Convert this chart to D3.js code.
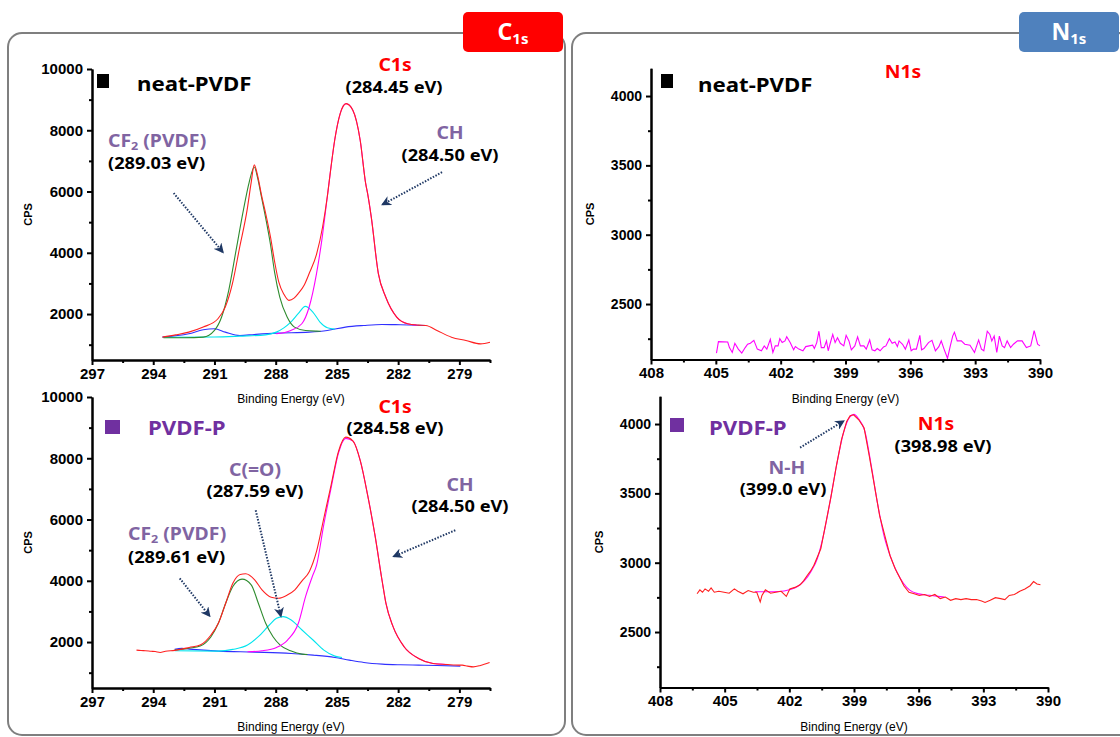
<!DOCTYPE html>
<html lang="en">
<head>
<meta charset="utf-8">
<title>XPS C1s / N1s</title>
<script src="https://d3js.org/d3.v7.min.js"></script>
<style>
  body { margin: 0; background: #fff; }
  svg text { font-family: "Liberation Sans", Arial, sans-serif; }
  .note { font-family: "Noto Sans", sans-serif; font-weight: bold; }
</style>
</head>
<body>
<script>
const width = 1120;
const height = 737;

// ---- data: [binding energy (eV), CPS] ----
// C1s, neat-PVDF
const tlEnvelope = [[293.55,1246],[292.9,1320],[292.26,1410],[291.55,1574],[290.83,1847],[290.47,2230],[290.12,2995],[289.76,4197],[289.40,5400],[289.2,6300],[289.05,6870],[288.88,6500],[288.7,5900],[288.48,5250],[288.25,4500],[288.05,3700],[287.85,3050],[287.6,2650],[287.35,2448],[287.1,2520],[286.9,2667],[286.6,2950],[286.36,3322],[286.0,3950],[285.7,4850],[285.47,5836],[285.29,6800],[285.11,7673],[284.84,8545],[284.55,8870],[284.22,8654],[283.86,7673],[283.59,6256],[283.5,5945],[283.32,5180],[282.97,3322],[282.61,2557],[282.07,1902],[281.54,1683],[281.0,1640],[280.64,1628],[280.1,1464],[279.39,1246],[278.68,1137],[277.96,1027],[277.5,1082]];
const tlCF2 = [[293.5,1224],[292.5,1226],[291.55,1246],[291.0,1464],[290.65,1902],[290.3,2776],[289.94,4087],[289.58,5400],[289.3,6300],[289.05,6800],[288.88,6430],[288.7,5830],[288.48,5100],[288.25,4250],[288.05,3350],[287.8,2550],[287.44,1902],[287.08,1574],[286.54,1464],[286.0,1443],[285.8,1440]];
const tlCO = [[293.5,1240],[291,1250],[289.76,1279],[288.5,1320],[287.97,1410],[287.6,1550],[287.26,1738],[286.9,2011],[286.55,2250],[286.18,2066],[285.83,1738],[285.47,1552],[285.11,1508]];
const tlCH = [[287.97,1355],[287.26,1464],[286.72,1683],[286.36,2230],[286.0,3322],[285.74,4415],[285.47,5836],[285.29,6800],[285.11,7673],[284.84,8545],[284.55,8870],[284.22,8654],[283.86,7673],[283.59,6256],[283.5,5945],[283.32,5180],[282.97,3322],[282.61,2557],[282.07,1902],[281.54,1683],[281.1,1640]];
const tlBg = [[293.55,1246],[292.26,1355],[291.55,1486],[291.0,1519],[290.47,1410],[289.76,1300],[289.05,1333],[287.97,1377],[286.36,1410],[285.47,1464],[284.58,1574],[283.68,1628],[282.79,1661],[281.9,1650],[280.64,1628]];

// C1s, PVDF-P
const blEnvelope = [[294.82,1738],[294.6,1725],[294.38,1716],[294.1,1700],[293.9,1690],[293.66,1661],[293.4,1700],[292.95,1727],[292.6,1770],[292.24,1825],[291.7,1902],[291.17,2230],[290.81,2612],[290.45,3268],[290.1,3923],[289.74,4208],[289.47,4230],[289.03,4033],[288.67,3705],[288.22,3464],[287.87,3432],[287.42,3541],[287.06,3705],[286.71,4000],[286.35,4304],[286.0,4959],[285.64,6050],[285.28,7141],[284.92,8232],[284.57,8690],[284.21,8560],[283.85,7905],[283.5,6814],[283.14,5505],[282.78,3977],[282.6,3268],[282.25,2503],[281.71,1847],[281.0,1465],[280.29,1300],[279.57,1268],[279.2,1250],[278.86,1246],[278.6,1215],[278.32,1191],[277.97,1235],[277.52,1333]];
const blCF2 = [[292.95,1738],[292.24,1800],[291.7,1869],[291.17,2175],[290.81,2612],[290.45,3268],[290.1,3814],[289.65,4055],[289.2,3869],[288.85,3268],[288.49,2612],[288.13,2175],[287.78,1902],[287.24,1705],[286.71,1607],[286.44,1596]];
const blCO = [[292.95,1716],[290.81,1705],[290.1,1760],[289.38,1902],[288.85,2175],[288.31,2557],[287.96,2776],[287.64,2831],[287.24,2721],[286.71,2394],[286.17,2066],[285.64,1738],[285.1,1541],[284.75,1497]];
const blCH = [[289.38,1683],[288.67,1716],[287.96,1825],[287.42,2066],[286.89,2612],[286.53,3500],[286.2,4150],[286.0,4500],[285.64,5850],[285.28,7050],[284.92,8180],[284.57,8650],[284.21,8560],[283.85,7905],[283.5,6814],[283.14,5505],[282.78,3977],[282.6,3268],[282.25,2503],[281.71,1847],[281.0,1465],[280.29,1300],[279.57,1268]];
const blBg = [[292.95,1760],[292.6,1792],[292.24,1770],[290.81,1705],[289.03,1672],[287.24,1628],[286.17,1574],[285.1,1497],[284.39,1410],[283.68,1333],[282.78,1279],[281.89,1257],[281.0,1246],[280.11,1235],[278.95,1213]];

// N1s, neat-PVDF (noise only)
const trNoise = [[404.97,2146],[404.88,2229],[404.45,2226],[404.37,2186],[404.24,2151],[404.12,2217],[403.96,2175],[403.80,2146],[403.64,2186],[403.53,2210],[403.40,2217],[403.24,2238],[403.08,2175],[402.89,2163],[402.76,2198],[402.64,2175],[402.48,2245],[402.36,2151],[402.25,2198],[402.12,2198],[402.04,2250],[401.93,2222],[401.80,2234],[401.72,2264],[401.56,2222],[401.40,2170],[401.32,2193],[401.16,2175],[400.97,2163],[400.84,2193],[400.68,2198],[400.52,2203],[400.44,2179],[400.33,2222],[400.23,2304],[400.12,2186],[399.99,2186],[399.88,2234],[399.80,2163],[399.72,2210],[399.59,2281],[399.48,2222],[399.37,2257],[399.24,2217],[399.08,2198],[398.97,2274],[398.84,2234],[398.73,2170],[398.57,2198],[398.44,2264],[398.31,2198],[398.15,2198],[398.04,2175],[397.88,2241],[397.77,2170],[397.64,2163],[397.53,2179],[397.40,2163],[397.24,2191],[397.13,2198],[396.97,2250],[396.84,2217],[396.71,2226],[396.60,2193],[396.52,2234],[396.36,2210],[396.23,2175],[396.07,2241],[395.96,2163],[395.85,2175],[395.72,2175],[395.56,2274],[395.48,2170],[395.37,2179],[395.16,2222],[395.00,2238],[394.84,2163],[394.68,2193],[394.57,2234],[394.44,2175],[394.28,2109],[394.15,2198],[394.04,2269],[393.96,2297],[393.83,2234],[393.64,2234],[393.48,2210],[393.24,2203],[393.03,2151],[392.84,2241],[392.71,2175],[392.60,2163],[392.44,2304],[392.32,2281],[392.23,2234],[392.12,2269],[392.00,2151],[391.88,2269],[391.75,2198],[391.64,2186],[391.52,2234],[391.36,2186],[391.23,2210],[391.04,2234],[390.83,2234],[390.63,2186],[390.43,2198],[390.27,2309],[390.11,2210],[390.00,2198]];

// N1s, PVDF-P
const brEnvelope = [[406.28,2776],[406.15,2804],[406.03,2787],[405.91,2811],[405.75,2794],[405.63,2818],[405.48,2787],[405.27,2794],[405.03,2787],[404.79,2780],[404.55,2811],[404.39,2794],[404.15,2776],[403.91,2799],[403.67,2787],[403.51,2787],[403.35,2717],[403.27,2764],[403.11,2804],[402.87,2780],[402.63,2787],[402.38,2794],[402.14,2757],[401.98,2811],[401.74,2822],[401.5,2841],[401.34,2869],[401.18,2906],[401.02,2939],[400.86,2981],[400.54,3100],[400.3,3291],[400.06,3482],[399.82,3697],[399.58,3888],[399.34,4019],[399.18,4060],[399.02,4067],[398.78,4031],[398.53,3971],[398.29,3768],[398.05,3554],[397.81,3339],[397.57,3196],[397.33,3052],[397.09,2957],[396.85,2885],[396.69,2834],[396.45,2787],[396.21,2776],[395.97,2764],[395.73,2771],[395.49,2757],[395.25,2771],[395.0,2741],[394.76,2752],[394.52,2729],[394.28,2741],[394.04,2734],[393.8,2741],[393.56,2734],[393.32,2734],[393.08,2724],[392.92,2713],[392.68,2729],[392.44,2748],[392.2,2741],[392.0,2734],[391.8,2764],[391.56,2771],[391.31,2794],[391.07,2811],[390.83,2834],[390.67,2864],[390.51,2846],[390.35,2841]];
const brNH = [[403.6,2790],[403.0,2790],[402.5,2792],[402.0,2805],[401.6,2830],[401.3,2870],[401.0,2935],[400.7,3030],[400.4,3210],[400.1,3450],[399.8,3710],[399.5,3930],[399.2,4050],[399.0,4070],[398.8,4040],[398.5,3950],[398.2,3700],[397.9,3420],[397.6,3190],[397.3,3040],[397.0,2930],[396.7,2850],[396.4,2800],[396.0,2775],[395.5,2765],[394.8,2752]];

// ticks
const cTicks = [297, 294, 291, 288, 285, 282, 279];
const cMinor = [295.5, 292.5, 289.5, 286.5, 283.5, 280.5, 277.5];
const cYTicks = [2000, 4000, 6000, 8000, 10000];
const cYMinor = [1000, 3000, 5000, 7000, 9000];
const nTicks = [408, 405, 402, 399, 396, 393, 390];
const nMinor = [406.5, 403.5, 400.5, 397.5, 394.5, 391.5];
const nYTicks = [2500, 3000, 3500, 4000];
const nYMinor = [2250, 2750, 3250, 3750];

const svg = d3.select("body").append("svg")
    .attr("width", width)
    .attr("height", height);

// panel frames and tabs
svg.append("rect").attr("x", 8).attr("y", 33).attr("width", 557).attr("height", 702)
    .attr("rx", 14).attr("fill", "none").attr("stroke", "#7f7f7f").attr("stroke-width", 2);
svg.append("rect").attr("x", 572).attr("y", 33).attr("width", 560).attr("height", 702)
    .attr("rx", 14).attr("fill", "none").attr("stroke", "#7f7f7f").attr("stroke-width", 2);

function tab(x, fill, letter) {
    svg.append("rect").attr("x", x).attr("y", 12).attr("width", 100).attr("height", 40)
        .attr("rx", 5).attr("fill", fill);
    const t = svg.append("text").attr("class", "note").attr("x", x + 50).attr("y", 40)
        .attr("text-anchor", "middle").attr("fill", "#fff").attr("font-size", 23);
    t.append("tspan").text(letter);
    t.append("tspan").attr("font-size", 15).attr("dy", 4).text("1s");
}
tab(463, "#ff0000", "C");
tab(1019, "#4f81bd", "N");

const defs = svg.append("defs");
defs.append("marker").attr("id", "head")
    .attr("viewBox", "0 0 10 10").attr("refX", 8).attr("refY", 5)
    .attr("markerWidth", 5).attr("markerHeight", 5).attr("orient", "auto")
    .append("path").attr("d", "M0,0 L10,5 L0,10 L3,5 Z").attr("fill", "#1f3864");

function drawPanel(p) {
    const x = d3.scaleLinear().domain(p.xDomain).range(p.xRange);
    const y = d3.scaleLinear().domain(p.yDomain).range(p.yRange);
    const g = svg.append("g");
    const line = d3.line().x(d => x(d[0])).y(d => y(d[1]));

    p.series.forEach(s => {
        g.append("path").datum(s.data)
            .attr("d", line.curve(s.smooth ? d3.curveMonotoneX : d3.curveLinear))
            .attr("fill", "none").attr("stroke", s.color).attr("stroke-width", 1.1);
    });

    const x0 = p.yRange[0];
    g.append("g").attr("transform", `translate(0,${x0})`)
        .call(d3.axisBottom(x).tickValues(p.xMinor).tickFormat("").tickSize(3).tickSizeOuter(0));
    g.append("g").attr("transform", `translate(0,${x0})`)
        .call(d3.axisBottom(x).tickValues(p.xTicks).tickFormat(d3.format("d"))
            .tickSize(5).tickSizeOuter(0).tickPadding(3))
        .selectAll("text").attr("font-size", 15).attr("font-weight", "bold").attr("fill", "#000");

    const xl = p.xRange[0];
    g.append("g").attr("transform", `translate(${xl},0)`)
        .call(d3.axisLeft(y).tickValues(p.yMinor).tickFormat("").tickSize(3).tickSizeOuter(0));
    g.append("g").attr("transform", `translate(${xl},0)`)
        .call(d3.axisLeft(y).tickValues(p.yTicks).tickFormat(d3.format("d"))
            .tickSize(5).tickSizeOuter(0).tickPadding(4))
        .selectAll("text").attr("font-size", p.yFont).attr("font-weight", "bold").attr("fill", "#000");

    g.selectAll(".domain").attr("stroke", "#000").attr("stroke-width", 2);
    g.selectAll(".tick line").attr("stroke", "#000").attr("stroke-width", 2);

    g.append("text").attr("x", (p.xRange[0] + p.xRange[1]) / 2).attr("y", x0 + 43)
        .attr("text-anchor", "middle").attr("font-size", 12).text("Binding Energy (eV)");
    g.append("text").attr("transform", `translate(${p.cpsX},${(p.yRange[0] + p.yRange[1]) / 2}) rotate(-90)`)
        .attr("text-anchor", "middle").attr("font-size", 11).attr("font-weight", "bold").text("CPS");

    (p.arrows || []).forEach(a => {
        g.append("line")
            .attr("x1", x(a[0][0])).attr("y1", y(a[0][1]))
            .attr("x2", x(a[1][0])).attr("y2", y(a[1][1]))
            .attr("stroke", "#1f3864").attr("stroke-width", 2)
            .attr("stroke-dasharray", "1.5,1.5").attr("marker-end", "url(#head)");
    });
    return g;
}

// annotation text, widened a little to match the original's broad face
const stretch = 1.14;
function note(g, x, y, txt, color, size, anchor) {
    return g.append("text").attr("class", "note")
        .attr("transform", `translate(${x},${y}) scale(${stretch},1)`)
        .attr("fill", color).attr("font-size", size).attr("text-anchor", anchor || "start").text(txt);
}
function cf2(g, x, y) {
    const t = g.append("text").attr("class", "note")
        .attr("transform", `translate(${x},${y}) scale(${stretch},1)`)
        .attr("fill", "#8064a2").attr("font-size", 17);
    t.append("tspan").text("CF");
    t.append("tspan").attr("font-size", 11).attr("dy", 3).text("2");
    t.append("tspan").attr("dy", -3).text(" (PVDF)");
}

const purple = "#8064a2";
const violet = "#7030a0";

// top-left: C1s neat-PVDF
const tl = drawPanel({
    xDomain: [297, 277.5], xRange: [92, 490],
    yDomain: [500, 10000], yRange: [360, 69],
    xTicks: cTicks, xMinor: cMinor, yTicks: cYTicks, yMinor: cYMinor, yFont: 15, cpsX: 32,
    series: [
        {data: tlBg, color: "#3030ff", smooth: true},
        {data: tlCO, color: "#00e5ee", smooth: true},
        {data: tlCF2, color: "#2e8b2e", smooth: true},
        {data: tlCH, color: "#ff00ff", smooth: true},
        {data: tlEnvelope, color: "#ff2020", smooth: true}
    ],
    arrows: [[[293.0, 5950], [290.6, 4030]], [[279.85, 6630], [282.75, 5580]]]
});
tl.append("rect").attr("x", 97).attr("y", 74).attr("width", 12).attr("height", 14).attr("fill", "#000");
note(tl, 137, 91, "neat-PVDF", "#000", 19.5);
note(tl, 395, 71, "C1s", "#ff0000", 17, "middle");
note(tl, 394, 93, "(284.45 eV)", "#000", 16, "middle");
cf2(tl, 108, 147);
note(tl, 108, 169, "(289.03 eV)", "#000", 16);
note(tl, 450, 139, "CH", purple, 17, "middle");
note(tl, 450, 161, "(284.50 eV)", "#000", 16, "middle");

// bottom-left: C1s PVDF-P
const bl = drawPanel({
    xDomain: [297, 277.5], xRange: [92, 490],
    yDomain: [500, 10000], yRange: [688, 397],
    xTicks: cTicks, xMinor: cMinor, yTicks: cYTicks, yMinor: cYMinor, yFont: 15, cpsX: 32,
    series: [
        {data: blBg, color: "#3030ff", smooth: true},
        {data: blCO, color: "#00e5ee", smooth: true},
        {data: blCF2, color: "#2e8b2e", smooth: true},
        {data: blCH, color: "#ff00ff", smooth: true},
        {data: blEnvelope, color: "#ff2020", smooth: true}
    ],
    arrows: [[[292.7, 4080], [291.25, 2860]], [[288.98, 6300], [287.75, 2860]], [[279.2, 5650], [282.2, 4800]]]
});
bl.append("rect").attr("x", 105).attr("y", 420).attr("width", 15).attr("height", 14).attr("fill", violet);
note(bl, 148, 435, "PVDF-P", violet, 19.5);
note(bl, 395, 413, "C1s", "#ff0000", 17, "middle");
note(bl, 395, 434, "(284.58 eV)", "#000", 16, "middle");
note(bl, 255, 476, "C(=O)", purple, 17, "middle");
note(bl, 255, 497, "(287.59 eV)", "#000", 16, "middle");
note(bl, 460, 491, "CH", purple, 17, "middle");
note(bl, 460, 512, "(284.50 eV)", "#000", 16, "middle");
cf2(bl, 128, 540);
note(bl, 128, 563, "(289.61 eV)", "#000", 16);

// top-right: N1s neat-PVDF
const tr = drawPanel({
    xDomain: [408, 390], xRange: [651, 1040],
    yDomain: [2100, 4200], yRange: [359.5, 68.3],
    xTicks: nTicks, xMinor: nMinor, yTicks: nYTicks, yMinor: nYMinor, yFont: 14, cpsX: 594,
    series: [{data: trNoise, color: "#ff00ff", smooth: false}]
});
tr.append("rect").attr("x", 661).attr("y", 74).attr("width", 12).attr("height", 14).attr("fill", "#000");
note(tr, 698, 92, "neat-PVDF", "#000", 19.5);
note(tr, 903, 78, "N1s", "#ff0000", 17, "middle");

// bottom-right: N1s PVDF-P
const br = drawPanel({
    xDomain: [408, 390], xRange: [660, 1048],
    yDomain: [2100, 4200], yRange: [687.5, 396.3],
    xTicks: nTicks, xMinor: nMinor, yTicks: nYTicks, yMinor: nYMinor, yFont: 14, cpsX: 603,
    series: [
        {data: brNH, color: "#ff00ff", smooth: true},
        {data: brEnvelope, color: "#ff2020", smooth: false}
    ],
    arrows: [[[401.5, 3830], [399.5, 4020]]]
});
br.append("rect").attr("x", 670).attr("y", 418).attr("width", 14).attr("height", 14).attr("fill", violet);
note(br, 709, 435, "PVDF-P", violet, 19.5);
note(br, 936, 430, "N1s", "#ff0000", 17, "middle");
note(br, 943, 452, "(398.98 eV)", "#000", 16, "middle");
note(br, 787, 474, "N-H", purple, 17, "middle");
note(br, 783, 495, "(399.0 eV)", "#000", 16, "middle");
</script>
</body>
</html>
